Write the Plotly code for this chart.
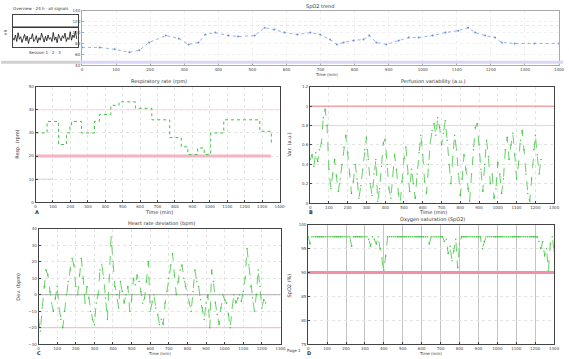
import plotly.graph_objects as go

W, H = 569, 359

# ---------------- data ----------------
# thumbnail (overview strip)
thumb_x = list(range(0, 100, 2))
thumb_y = [30, 22, 38, 18, 45, 25, 33, 15, 28, 40, 20, 35, 12, 30, 26, 42, 18, 24, 36, 14,
           30, 22, 44, 28, 16, 34, 20, 38, 25, 30, 18, 46, 22, 32, 14, 40, 26, 20, 36, 28,
           44, 18, 30, 24, 48, 22, 38, 30, 50, 26]
thumb_ref = 62

# top trend
top_x = [0, 52, 96, 139, 168, 197, 246, 284, 313, 342, 362, 391, 429, 458, 507, 536, 565,
         594, 632, 670, 699, 728, 748, 768, 797, 826, 843, 864, 893, 930, 959, 988, 1029,
         1067, 1104, 1133, 1154, 1183, 1212, 1232, 1270, 1328, 1400]
top_y = [72.7, 72.7, 69.1, 63.6, 67.3, 81.8, 94.5, 89.1, 78.2, 81.8, 96.4, 100, 94.5, 92.7,
         94.5, 109, 105.5, 100, 96.4, 100, 96.4, 87.3, 78.2, 81.8, 85.5, 87.3, 94.5, 81.8,
         78.2, 85.5, 90.9, 90.9, 94.5, 100, 103.6, 109, 100, 94.5, 90.9, 81.8, 80, 80, 80]
top_limit = 113

# panel A : respiratory rate (step values)
p1_x = [0, 66, 132, 178, 197, 207, 263, 338, 366, 432, 479, 573, 667, 770, 836, 874, 930,
        968, 1005, 1080, 1287, 1353]
p1_y = [30, 35, 25, 30, 33, 35, 30, 35, 38, 42, 43.5, 40.7, 35.7, 28, 24, 20.7, 23.5, 20.7,
        30, 35.7, 30.7, 25.7]
p1_low, p1_high = 20, 40

# panel B : variability index
p2_y = [0.45, 0.50, 0.38, 0.52, 0.43, 0.55, 0.62, 0.88, 0.97, 0.80, 0.35, 0.15, 0.30, 0.45,
        0.28, 0.12, 0.25, 0.40, 0.58, 0.70, 0.52, 0.30, 0.10, 0.22, 0.40, 0.25, 0.05, 0.18,
        0.35, 0.55, 0.68, 0.45, 0.20, 0.08, 0.30, 0.45, 0.02, 0.15, 0.38, 0.62, 0.66, 0.40,
        0.15, 0.05, 0.28, 0.50, 0.35, 0.10, 0.00, 0.22, 0.46, 0.58, 0.30, 0.12, 0.35, 0.20,
        0.05, 0.30, 0.52, 0.70, 0.50, 0.22, 0.10, 0.40, 0.62, 0.75, 0.82, 0.70, 0.88, 0.78,
        0.60, 0.72, 0.85, 0.65, 0.40, 0.20, 0.48, 0.70, 0.55, 0.30, 0.08, 0.25, 0.50, 0.35,
        0.15, 0.02, 0.30, 0.55, 0.78, 0.82, 0.60, 0.35, 0.12, 0.40, 0.65, 0.48, 0.20, 0.30,
        0.05, 0.15, 0.42, 0.30, 0.10, 0.25, 0.55, 0.68, 0.45, 0.60, 0.72, 0.50, 0.25, 0.40,
        0.65, 0.75, 0.55, 0.30, 0.10, 0.02, 0.25, 0.55, 0.70, 0.50, 0.30, 0.45]
p2_x = [i * 10 for i in range(len(p2_y))]
p2_alarm, p2_warn = 1.0, 0.8

# panel C : deviation
p3_y = [-15, -22, -8, 5, 15, 12, 2, -5, -10, -2, 5, -8, -15, -20, -10, 0, 8, 15, 22, 18,
        5, 0, 12, 22, 10, -5, 5, -2, -10, -15, -18, -5, 0, 15, 18, 10, -2, -15, 10, 35,
        20, 5, 0, -8, 8, 2, -5, 0, 5, -10, -3, 10, 6, 12, 8, 2, -5, -2, 8, 20,
        -10, -4, 0, -8, -12, -18, -15, -18, -5, 2, 10, 18, 25, 12, 0, 8, 15, 18, 10, 5,
        0, -5, -10, 2, 15, 8, 5, -3, -8, -15, -5, 0, -20, 15, 8, -5, -12, -18, -8, 0,
        -3, -5, -12, -20, -8, 0, -5, -2, 0, -4, 2, 10, 28, 18, 5, -2, -10, 0, 15, 5,
        -8, -3, -5]
p3_x = [i * 10 for i in range(len(p3_y))]
p3_zero, p3_low = 0, -20

# panel D : oxygen saturation
p4_y = [97.5, 96.0, 97.5, 97.5, 97.5, 97.5, 97.5, 97.5, 97.5, 97.5, 97.5, 97.5, 97.5, 97.5,
        97.5, 97.5, 97.5, 97.5, 97.5, 97.5, 97.5, 97.5, 97.5, 95.5, 97.5, 97.5, 97.5, 97.5,
        97.5, 97.5, 97.5, 97.5, 97.0, 95.5, 97.5, 97.0, 96.0, 97.5, 95.0, 93.0, 90.5, 93.5,
        97.5, 97.5, 97.5, 97.5, 97.5, 97.5, 97.5, 97.5, 97.5, 97.5, 97.5, 97.5, 97.5, 97.5,
        97.5, 97.5, 97.5, 97.5, 97.5, 97.5, 97.5, 97.5, 96.0, 97.5, 97.5, 97.5, 97.5, 97.5,
        97.5, 97.5, 96.5, 97.0, 94.0, 95.5, 92.5, 94.5, 97.0, 91.0, 96.0, 97.5, 97.5, 97.5,
        97.5, 97.5, 97.5, 97.5, 97.5, 97.5, 97.5, 97.5, 95.0, 96.5, 97.5, 97.5, 97.5, 97.5,
        97.5, 97.5, 97.5, 97.5, 97.5, 97.5, 97.5, 97.5, 97.5, 97.5, 97.5, 97.5, 97.5, 97.5,
        97.5, 97.5, 97.5, 97.5, 97.5, 97.5, 97.5, 97.5, 97.5, 97.5, 96.5, 95.0, 96.5, 93.5,
        95.0, 90.5, 96.0, 97.5, 94.5, 97.0, 93.0, 88.0]
p4_x = [i * 10 for i in range(len(p4_y))]
p4_alarm = 90

# ---------------- helpers ----------------
def px(x):
    return x / W

def py(y):
    return 1 - y / H

FONT = "DejaVu Sans"
GREEN = "#3ec43e"

fig = go.Figure()

def axis_style(dom, rng, dtick, anchor, grid="#e4e4e4", gdash="dot", ticksize=4,
               line="#444"):
    return dict(domain=dom, range=rng, dtick=dtick, anchor=anchor, showline=True, mirror=True,
                linecolor=line, linewidth=1, showgrid=True, gridcolor=grid,
                griddash=gdash, gridwidth=0.6, zeroline=False, ticks="inside",
                ticklen=2, tickwidth=0.6, tickcolor=line,
                tickfont=dict(family=FONT, size=ticksize, color="#444"))

# thumbnail
fig.add_trace(go.Scatter(x=thumb_x, y=thumb_y, mode="lines", line=dict(color="#111", width=0.8),
                         xaxis="x6", yaxis="y6", showlegend=False))
fig.add_trace(go.Scatter(x=[0, 100], y=[thumb_ref, thumb_ref], mode="lines",
                         line=dict(color="#333", width=1.5), xaxis="x6", yaxis="y6",
                         showlegend=False))

# top trend
fig.add_trace(go.Scatter(x=[0, 1400], y=[top_limit, top_limit], mode="lines",
                         line=dict(color="#f2e2a0", width=0.8, dash="dot"),
                         xaxis="x5", yaxis="y5", showlegend=False))
fig.add_trace(go.Scatter(x=top_x, y=top_y, mode="lines+markers",
                         line=dict(color="#7a9ee0", width=0.8, dash="dot"),
                         marker=dict(color="#6f8fd8", size=2),
                         xaxis="x5", yaxis="y5", showlegend=False))

# panel A
fig.add_trace(go.Scatter(x=[0, 1350], y=[p1_low, p1_low], mode="lines",
                         line=dict(color="#f7b3c2", width=3), xaxis="x", yaxis="y", showlegend=False))
fig.add_trace(go.Scatter(x=[0, 1400], y=[p1_high, p1_high], mode="lines",
                         line=dict(color="#f7d0d8", width=0.8), xaxis="x", yaxis="y", showlegend=False))
fig.add_trace(go.Scatter(x=[0, 100], y=[10, 10], mode="lines",
                         line=dict(color="#bbbbbb", width=0.6), xaxis="x", yaxis="y", showlegend=False))
fig.add_trace(go.Scatter(x=p1_x, y=p1_y, mode="lines", line_shape="hv",
                         line=dict(color=GREEN, width=1, dash="dot"),
                         xaxis="x", yaxis="y", showlegend=False))

# panel B
fig.add_trace(go.Scatter(x=[0, 1300], y=[p2_alarm, p2_alarm], mode="lines",
                         line=dict(color="#f4a0a8", width=1.5), xaxis="x2", yaxis="y2", showlegend=False))
fig.add_trace(go.Scatter(x=[0, 1300], y=[p2_warn, p2_warn], mode="lines",
                         line=dict(color="#f8ccd4", width=1), xaxis="x2", yaxis="y2", showlegend=False))
fig.add_trace(go.Scatter(x=p2_x, y=p2_y, mode="lines+markers",
                         line=dict(color=GREEN, width=0.8, dash="dash"),
                         marker=dict(color=GREEN, size=1.5),
                         xaxis="x2", yaxis="y2", showlegend=False))

# panel C
fig.add_trace(go.Scatter(x=[0, 1300], y=[p3_zero, p3_zero], mode="lines",
                         line=dict(color="#999", width=0.8), xaxis="x3", yaxis="y3", showlegend=False))
fig.add_trace(go.Scatter(x=[0, 1300], y=[p3_low, p3_low], mode="lines",
                         line=dict(color="#f7c0cc", width=1.2), xaxis="x3", yaxis="y3", showlegend=False))
fig.add_trace(go.Scatter(x=p3_x, y=p3_y, mode="lines+markers",
                         line=dict(color=GREEN, width=0.8, dash="dash"),
                         marker=dict(color=GREEN, size=1.5),
                         xaxis="x3", yaxis="y3", showlegend=False))

# panel D
fig.add_trace(go.Scatter(x=[0, 1300], y=[p4_alarm, p4_alarm], mode="lines",
                         line=dict(color="#f090a8", width=3), xaxis="x4", yaxis="y4", showlegend=False))
fig.add_trace(go.Scatter(x=p4_x, y=p4_y, mode="lines+markers",
                         line=dict(color=GREEN, width=0.8, dash="dash"),
                         marker=dict(color=GREEN, size=1.5),
                         xaxis="x4", yaxis="y4", showlegend=False))

fig.update_layout(
    width=W, height=H, autosize=False,
    margin=dict(l=0, r=0, t=0, b=0),
    paper_bgcolor="white", plot_bgcolor="white",
    font=dict(family=FONT, size=5, color="#333"),
    # panels
    xaxis=axis_style([px(35), px(282)], [0, 1400], 100, "y"),
    yaxis=axis_style([py(202), py(85)], [0, 50], 10, "x"),
    xaxis2=axis_style([px(313), px(560)], [0, 1300], 100, "y2"),
    yaxis2=axis_style([py(203), py(85)], [0, 1.2], 0.2, "x2"),
    xaxis3=axis_style([px(38), px(283)], [0, 1300], 100, "y3"),
    yaxis3=axis_style([py(346), py(229)], [-30, 40], 10, "x3"),
    xaxis4=axis_style([px(311), px(560)], [0, 1300], 100, "y4", grid="#c4c4c4", gdash="solid"),
    yaxis4=axis_style([py(346), py(225)], [75, 100], 5, "x4"),
    # top trend
    xaxis5=axis_style([px(82), px(565)], [0, 1400], 100, "y5", grid="#f0f0f0", line="#aaaaaa"),
    yaxis5=axis_style([py(63), py(8)], [40, 140], 20, "x5", grid="#f0f0f0", line="#aaaaaa"),
    # thumbnail
    xaxis6=dict(domain=[px(12), px(78)], range=[0, 100], anchor="y6", showline=True, mirror=True,
                linecolor="#444", linewidth=1, showgrid=False, zeroline=False,
                showticklabels=False, ticks=""),
    yaxis6=dict(domain=[py(45), py(12)], range=[0, 100], anchor="x6", showline=True, mirror=True,
                linecolor="#444", linewidth=1, showgrid=False, zeroline=False,
                showticklabels=False, ticks=""),
)

# full-width band under the top trend
fig.add_shape(type="line", xref="paper", yref="paper", x0=0, x1=px(80), y0=py(60), y1=py(60),
              line=dict(color="#d0d0d0", width=3))
fig.add_shape(type="line", xref="paper", yref="paper", x0=px(80), x1=1, y0=py(60), y1=py(60),
              line=dict(color="#dcd4f4", width=3))

def txt(x, y, s, size=5, angle=0, color="#333", bold=False):
    fig.add_annotation(x=px(x), y=py(y), xref="paper", yref="paper", text=("<b>%s</b>" % s) if bold else s,
                       showarrow=False, textangle=angle, xanchor="center", yanchor="middle",
                       borderpad=0,
                       font=dict(family=FONT, size=size, color=color))

# titles
txt(323, 4, "SpO2 trend", 5)
txt(40, 6, "Overview · 24 h · all signals", 4)
txt(45, 50, "Session 1 · 2 · 3", 4)
txt(5, 30, "HR", 4, -90)
txt(160, 80, "Respiratory rate (rpm)", 5)
txt(437, 80, "Perfusion variability (a.u.)", 5)
txt(163, 224, "Heart rate deviation (bpm)", 5)
txt(437, 220, "Oxygen saturation (SpO2)", 5)
# y titles
txt(16, 143, "Resp. (rpm)", 5, -90)
txt(292, 143, "Var. (a.u.)", 5, -90)
txt(18, 288, "Dev. (bpm)", 5, -90)
txt(292, 286, "SpO2 (%)", 5, -90)
# x titles
txt(160, 212, "Time (min)", 5)
txt(437, 212, "Time (min)", 5)
txt(160, 355, "Time (min)", 4)
txt(435, 355, "Time (min)", 4)
txt(330, 73, "Time (min)", 4)
# panel letters
txt(36, 212, "A", 5, bold=True)
txt(314, 212, "B", 5, bold=True)
txt(38, 355, "C", 5, bold=True)
txt(312, 355, "D", 5, bold=True)
txt(297, 352, "Page 1", 4)

fig.write_html("out.html",
               config={"displayModeBar": False},
               post_script="document.body.style.margin='0';document.body.style.overflow='hidden';")
